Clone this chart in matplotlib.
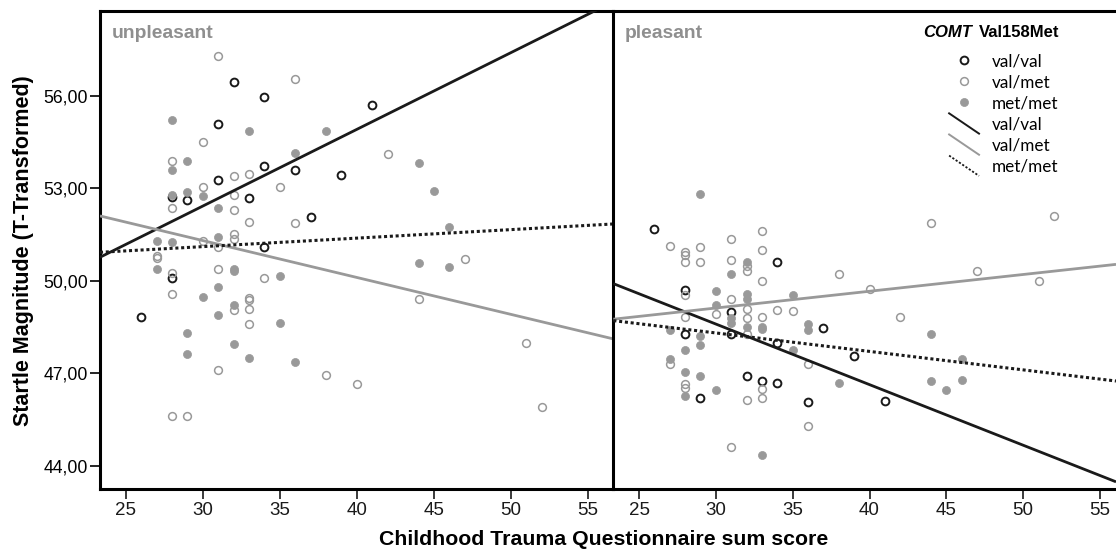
import matplotlib
matplotlib.use("Agg")
import matplotlib.pyplot as plt
import numpy as np
from matplotlib.lines import Line2D
from matplotlib.legend_handler import HandlerBase
from matplotlib.ticker import FuncFormatter

# ---- data ----
# unpleasant panel
unpl_vv_x = [31, 32, 34, 34, 36, 39, 31, 28, 29, 33, 37, 34, 28, 26, 41]
unpl_vv_y = [55.09, 56.46, 55.96, 53.73, 53.58, 53.42, 53.28, 52.73, 52.62, 52.67,
             52.07, 51.09, 50.10, 48.81, 55.69]
unpl_vm_x = [31, 36, 30, 28, 32, 33, 35, 30, 32, 28, 32, 33, 36, 30, 32, 32, 31, 27, 27,
             28, 31, 34, 42, 47, 28, 32, 33, 33, 33, 33, 31, 38, 40, 28, 29, 44, 51, 52]
unpl_vm_y = [57.29, 56.53, 54.51, 53.88, 53.41, 53.47, 53.04, 53.04, 52.77, 52.35,
             52.28, 51.90, 51.88, 51.30, 51.52, 51.35, 51.08, 50.80, 50.72, 50.24,
             50.39, 50.08, 54.12, 50.70, 49.58, 49.04, 49.45, 49.37, 49.08, 48.59,
             47.10, 46.95, 46.66, 45.60, 45.60, 49.41, 47.99, 45.90]
unpl_mm_x = [28, 33, 38, 29, 28, 36, 28, 29, 30, 31, 27, 28, 31, 27, 32, 32, 35, 44,
             45, 46, 44, 46, 30, 31, 32, 31, 35, 29, 29, 32, 33, 36]
unpl_mm_y = [55.21, 54.85, 54.86, 53.88, 53.58, 54.14, 52.77, 52.88, 52.75, 52.35,
             51.30, 51.25, 51.43, 50.39, 50.39, 50.30, 50.15, 53.83, 52.90, 51.75,
             50.57, 50.45, 49.48, 49.78, 49.22, 48.88, 48.64, 48.31, 47.63, 47.96,
             47.50, 47.37]

# pleasant panel
pl_vv_x = [26, 34, 28, 31, 28, 31, 37, 34, 39, 32, 33, 34, 29, 36, 41]
pl_vv_y = [51.67, 50.61, 49.71, 48.98, 48.26, 48.26, 48.47, 47.99, 47.55, 46.91,
           46.74, 46.68, 46.18, 46.06, 46.11]
pl_vm_x = [27, 28, 28, 28, 29, 29, 31, 31, 33, 33, 32, 32, 33, 38, 40, 28, 31, 30, 32,
           32, 33, 34, 35, 28, 32, 27, 36, 28, 28, 33, 33, 32, 36, 31, 44, 52, 47, 51, 42]
pl_vm_y = [51.13, 50.93, 50.83, 50.61, 51.10, 50.59, 51.36, 50.68, 51.61, 51.01,
           50.48, 50.30, 50.00, 50.23, 49.72, 49.52, 49.42, 48.93, 49.07, 48.80,
           48.83, 49.04, 49.02, 48.81, 48.26, 47.31, 47.28, 46.66, 46.52, 46.50,
           46.19, 46.12, 45.28, 44.59, 51.86, 52.10, 50.30, 50.00, 48.82]
pl_mm_x = [29, 32, 31, 30, 32, 32, 35, 30, 31, 31, 33, 33, 32, 27, 29, 29, 36, 36, 35,
           28, 27, 28, 29, 28, 30, 38, 33, 44, 46, 44, 45, 46]
pl_mm_y = [52.82, 50.59, 50.23, 49.68, 49.57, 49.41, 49.52, 49.20, 48.80, 48.64,
           48.51, 48.43, 48.51, 48.39, 48.21, 47.92, 48.60, 48.39, 47.75, 47.75,
           47.45, 47.03, 46.91, 46.26, 46.45, 46.67, 44.35, 48.27, 47.45, 46.73,
           46.46, 46.78]

# fit lines (intercept, slope) for val/val, val/met, met/met
unpl_fit = [(44.95, 0.249), (54.895, -0.1198), (50.276, 0.0276)]
pl_fit = [(54.49, -0.1966), (47.48, 0.0544), (50.10, -0.0599)]

groups = ["val/val", "val/met", "met/met"]
yticks = [44, 47, 50, 53, 56]
xticks = [25, 30, 35, 40, 45, 50, 55]

BLACK = "#1a1a1a"
GRAY = "#999999"

plt.rcParams["font.family"] = ["Liberation Sans", "DejaVu Sans"]

fig = plt.figure(figsize=(11.16, 5.52), dpi=100)
ax1 = fig.add_axes([0.0896, 0.1136, 0.46, 0.8665])
ax2 = fig.add_axes([0.5496, 0.1136, 0.4504, 0.8665])

marker_styles = [
    dict(marker="o", ms=5.6, mfc="none", mec=BLACK, mew=1.4, ls="none"),
    dict(marker="o", ms=5.6, mfc="none", mec=GRAY, mew=1.1, ls="none"),
    dict(marker="o", ms=5.8, mfc=GRAY, mec=GRAY, mew=0.5, ls="none"),
]
line_styles = [
    dict(color=BLACK, lw=2.0, ls="-"),
    dict(color=GRAY, lw=2.0, ls="-"),
    dict(color=BLACK, lw=2.2, ls=(0, (1.0, 0.9))),
]


def draw_panel(ax, pts, fits, xlim, title):
    for (xs, ys), st in zip(pts, marker_styles):
        ax.plot(xs, ys, zorder=2, **st)
    xx = np.array(xlim)
    for (b0, b1), st in zip(fits, line_styles):
        ax.plot(xx, b0 + b1 * xx, zorder=3, solid_capstyle="butt", **st)
    ax.set_xlim(xlim)
    ax.set_ylim(43.23, 58.75)
    ax.set_xticks(xticks)
    ax.set_yticks(yticks)
    ax.tick_params(axis="x", direction="out", length=7, width=1.2, pad=2.5,
                   labelsize=13.5, colors=BLACK)
    for s in ax.spines.values():
        s.set_linewidth(2.2)
        s.set_color("black")
    ax.text(0.023, 0.9707, title, transform=ax.transAxes, fontsize=13.9,
            fontweight="bold", color="#8f8f8f", va="top", ha="left")


draw_panel(ax1, [(unpl_vv_x, unpl_vv_y), (unpl_vm_x, unpl_vm_y), (unpl_mm_x, unpl_mm_y)],
           unpl_fit, (23.33, 56.64), "unpleasant")
draw_panel(ax2, [(pl_vv_x, pl_vv_y), (pl_vm_x, pl_vm_y), (pl_mm_x, pl_mm_y)],
           pl_fit, (23.33, 56.04), "pleasant")

ax1.yaxis.set_major_formatter(FuncFormatter(lambda v, p: f"{v:.2f}".replace(".", ",")))
ax1.tick_params(axis="y", direction="out", length=7, width=1.2, pad=1.5, labelsize=12.7)
ax2.tick_params(axis="y", left=False, labelleft=False)
ax1.spines["right"].set_visible(False)
ax2.spines["right"].set_visible(False)
ax1.set_ylabel("Startle Magnitude (T-Transformed)", fontsize=15.5, fontweight="bold",
               labelpad=7)
fig.text(604 / 1116, 7 / 552, "Childhood Trauma Questionnaire sum score", fontsize=15.3,
         fontweight="bold", ha="center", va="baseline")


# legend with slanted line handles
class SlantHandler(HandlerBase):
    def create_artists(self, legend, orig, xd, yd, w, h, fontsize, trans):
        ln = Line2D([-xd, -xd + w], [h - yd + 3, -yd - 3])
        ln.update_from(orig)
        ln.set_transform(trans)
        return [ln]


handles = []
for st, g in zip(marker_styles, groups):
    handles.append(Line2D([], [], **st, label=g))
line_handles = []
for st, g in zip(line_styles, groups):
    lw = 1.4 if st["ls"] == "-" else 1.3
    ls = st["ls"] if st["ls"] == "-" else (0, (1.2, 1.0))
    line_handles.append(Line2D([], [], color=st["color"], lw=lw, ls=ls, label=g))

leg = ax2.legend(handles + line_handles, groups + groups, loc="upper left",
                 bbox_to_anchor=(0.668, 0.912), frameon=False,
                 handlelength=1.75, handletextpad=0.75, labelspacing=0.3,
                 borderpad=0, borderaxespad=0,
                 prop={"family": ["Lato", "DejaVu Sans"], "size": 12.3},
                 handler_map={h: SlantHandler() for h in line_handles})
ax2.text(0.7135, 0.954, "COMT", transform=ax2.transAxes, fontsize=12,
         fontweight="bold", style="italic", ha="right", va="center")
ax2.text(0.7275, 0.954, "Val158Met", transform=ax2.transAxes, fontsize=12,
         fontweight="bold", ha="left", va="center")

fig.savefig("out.png", dpi=100)
